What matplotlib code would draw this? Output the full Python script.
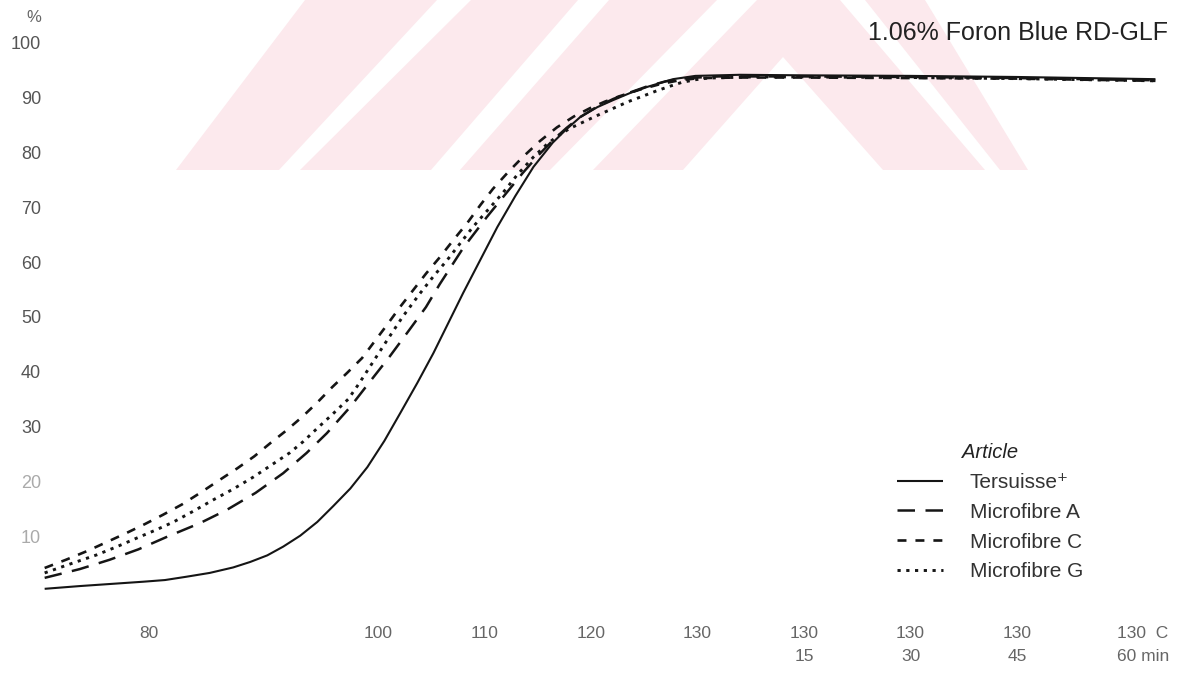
import matplotlib
matplotlib.use('Agg')
import matplotlib.pyplot as plt
from matplotlib.patches import Polygon

# ---------------- data ----------------
# x = process stage position: 0 = 100 °C, 1 = 110 °C, 2 = 120 °C, 3 = 130 °C (start of hold),
# each further unit = 15 min at 130 °C
series_names = ['Tersuisse\u207a', 'Microfibre A', 'Microfibre C', 'Microfibre G']

tersuisse_x = [-3.13, -2.8, -2.5, -2.2, -2.0, -1.8, -1.58, -1.36, -1.2, -1.04, -0.89, -0.73,
               -0.57, -0.42, -0.26, -0.10, 0.06, 0.21, 0.37, 0.52, 0.66, 0.80, 0.96, 1.12,
               1.29, 1.46, 1.64, 1.76, 1.90, 2.06, 2.21, 2.37, 2.53, 2.77, 2.98, 3.4, 4.0,
               5.0, 6.0, 7.3]
tersuisse_y = [0.4, 0.9, 1.3, 1.7, 2.0, 2.6, 3.3, 4.3, 5.3, 6.5, 8.1, 10.1,
               12.6, 15.5, 18.7, 22.6, 27.4, 32.5, 38.0, 43.4, 48.9, 54.4, 60.4, 66.4,
               72.1, 77.4, 81.8, 84.1, 86.5, 88.3, 89.6, 90.9, 92.0, 93.4, 94.0, 94.2, 94.1,
               94.0, 93.8, 93.4]

micro_a_x = [-3.13, -2.8, -2.52, -2.25, -1.98, -1.67, -1.42, -1.15, -0.89, -0.67, -0.48, -0.26,
             -0.08, 0.11, 0.30, 0.45, 0.58, 0.80, 1.02, 1.2, 1.36, 1.50, 1.64, 1.77, 1.90,
             2.05, 2.21, 2.37, 2.53, 2.70, 2.90, 3.2, 4.0, 5.0, 6.0, 7.3]
micro_a_y = [2.4, 4.0, 5.7, 7.6, 9.9, 12.4, 14.8, 17.9, 21.5, 25.2, 28.8, 33.6,
             38.1, 42.8, 47.8, 51.8, 56.0, 62.6, 68.2, 72.5, 76.3, 79.4, 82.2, 84.5, 86.5,
             88.3, 89.8, 91.0, 92.1, 93.0, 93.6, 93.9, 93.9, 93.8, 93.6, 93.2]

micro_c_x = [-3.13, -2.93, -2.73, -2.55, -2.36, -2.19, -2.02, -1.84, -1.67, -1.5, -1.32, -1.16,
             -1.01, -0.86, -0.71, -0.57, -0.43, -0.29, -0.15, -0.03, 0.09, 0.21, 0.33, 0.45,
             0.58, 0.71, 0.84, 0.96, 1.08, 1.22, 1.36, 1.52, 1.68, 1.84, 1.99, 2.13, 2.27,
             2.46, 2.65, 2.83, 3.02, 3.4, 4.0, 5.0, 6.0, 7.3]
micro_c_y = [4.2, 5.7, 7.3, 8.9, 10.6, 12.2, 13.9, 15.8, 17.9, 20.1, 22.4, 24.6,
             27.0, 29.3, 31.8, 34.4, 37.2, 39.8, 42.5, 45.6, 48.7, 51.9, 54.9, 57.9,
             60.9, 64.1, 67.2, 70.4, 73.4, 76.4, 79.2, 82.1, 84.6, 86.6, 88.1, 89.3, 90.3,
             91.5, 92.5, 93.2, 93.6, 93.7, 93.7, 93.6, 93.5, 93.1]

micro_g_x = [-3.13, -2.88, -2.64, -2.45, -2.26, -2.09, -1.92, -1.74, -1.55, -1.36, -1.17, -1.0,
             -0.83, -0.70, -0.57, -0.43, -0.28, -0.18, -0.08, 0.08, 0.23, 0.39, 0.52, 0.65,
             0.77, 0.89, 1.03, 1.17, 1.31, 1.46, 1.59, 1.70, 1.80, 1.93, 2.05, 2.20, 2.35,
             2.50, 2.62, 2.74, 2.85, 2.98, 3.1, 3.5, 4.0, 5.0, 6.0, 7.3]
micro_g_y = [3.3, 5.0, 6.6, 8.1, 9.7, 11.1, 12.6, 14.5, 16.6, 18.6, 20.8, 23.0,
             25.2, 27.3, 29.7, 32.2, 35.0, 37.8, 40.8, 45.6, 50.0, 54.2, 57.4, 60.4,
             63.4, 66.4, 69.5, 72.6, 76.0, 79.2, 81.6, 83.2, 84.4, 85.6, 86.7, 88.0, 89.3,
             90.4, 91.3, 92.1, 92.8, 93.3, 93.6, 93.8, 93.8, 93.7, 93.5, 93.1]

y_ticks = [10, 20, 30, 40, 50, 60, 70, 80, 90, 100]
x_tick_labels = ['80', '100', '110', '120', '130', '130\n15', '130\n30', '130\n45', '130  C\n60 min']
chart_title = '1.06% Foron Blue RD-GLF'
legend_title = 'Article'

# ---------------- figure ----------------
W, H = 1185, 684
fig = plt.figure(figsize=(W / 100, H / 100), dpi=100, facecolor='white')

# scanned-page watermark (pale pink stripes), in pixel coordinates of the page
def px(x, y):
    return (x / W, 1 - y / H)

wm_color = '#fce9ed'
wm_shapes = [
    [(176, 170), (279, 170), (437, 0), (305, 0)],
    [(300, 170), (431, 170), (578, 0), (471, 0)],
    [(460, 170), (550, 170), (717, 0), (609, 0)],
    [(593, 170), (683, 170), (783, 57), (883, 170), (985, 170), (840, 0), (757, 0)],
    [(865, 0), (925, 0), (1028, 170), (1000, 170)],
]
for shp in wm_shapes:
    fig.patches.append(Polygon([px(*p) for p in shp], closed=True, transform=fig.transFigure,
                               facecolor=wm_color, edgecolor='none', zorder=0))

# axes placed so that 100 °C sits at x=378 px, one stage = 106.5 px; 0 % at y=591 px, 10 % = 54.8 px
ax_l, ax_r, ax_t, ax_b = 44, 1170, 20, 600
ax = fig.add_axes([ax_l / W, 1 - ax_b / H, (ax_r - ax_l) / W, (ax_b - ax_t) / H])
ax.set_zorder(2)
ax.set_facecolor('none')
ax.set_xlim((ax_l - 378) / 106.5, (ax_r - 378) / 106.5)
ax.set_ylim((591 - ax_b) / 5.48, (591 - ax_t) / 5.48)
for s in ax.spines.values():
    s.set_visible(False)

ink = '#151515'
styles = [
    dict(linestyle='-', linewidth=1.5),
    dict(linestyle=(0, (7.0, 4.2)), linewidth=1.8),
    dict(linestyle=(0, (3.4, 3.4)), linewidth=1.9),
    dict(linestyle=(0, (1.1, 1.9)), linewidth=2.1),
]
xs = [tersuisse_x, micro_a_x, micro_c_x, micro_g_x]
ys = [tersuisse_y, micro_a_y, micro_c_y, micro_g_y]
handles = []
for x, y, st, name in zip(xs, ys, styles, series_names):
    h, = ax.plot(x, y, color=ink, label=name, clip_on=False, solid_capstyle='butt',
                 dash_capstyle='butt', solid_joinstyle='round', **st)
    handles.append(h)

fam = ['Liberation Sans', 'DejaVu Sans']

# y ticks
ax.set_yticks(y_ticks)
ax.set_yticklabels([str(v) for v in y_ticks], family=fam, fontsize=13, color='#555555')
ax.tick_params(axis='y', length=0, pad=2)
for lab, v in zip(ax.get_yticklabels(), y_ticks):
    if v <= 20:
        lab.set_color('#aaaaaa')
ax.set_ylabel('%', rotation=0, family=fam, fontsize=12, color='#666666', va='center', ha='center')
ax.yaxis.set_label_coords((34 - ax_l) / (ax_r - ax_l), (ax_b - 17) / (ax_b - ax_t))

# x ticks
x_tick_pos = [-2.15, 0, 1, 2, 3, 4, 5, 6, 7.18]
ax.set_xticks(x_tick_pos)
ax.set_xticklabels(x_tick_labels, family=fam, fontsize=12.5, color='#666666')
ax.tick_params(axis='x', length=0, pad=19)
for lab in ax.get_xticklabels():
    lab.set_linespacing(1.6)

# title
fig.text(1168 / W, 1 - 33 / H, chart_title, ha='right', va='center', family=fam,
         fontsize=18, color='#222222')

# legend
leg = ax.legend(handles, series_names, title=legend_title, loc='upper left',
                bbox_to_anchor=(897 / W, 1 - 443 / H), bbox_transform=fig.transFigure,
                frameon=False, prop=dict(family=fam, size=15), title_fontsize=14.5,
                handlelength=2.2, handletextpad=1.3, labelspacing=0.52, borderpad=0,
                borderaxespad=0)
leg.get_title().set_fontstyle('italic')
leg.get_title().set_family(fam)
leg.get_title().set_color('#222222')
for t in leg.get_texts():
    t.set_color('#333333')

fig.savefig('out.png', dpi=100, facecolor='white')
